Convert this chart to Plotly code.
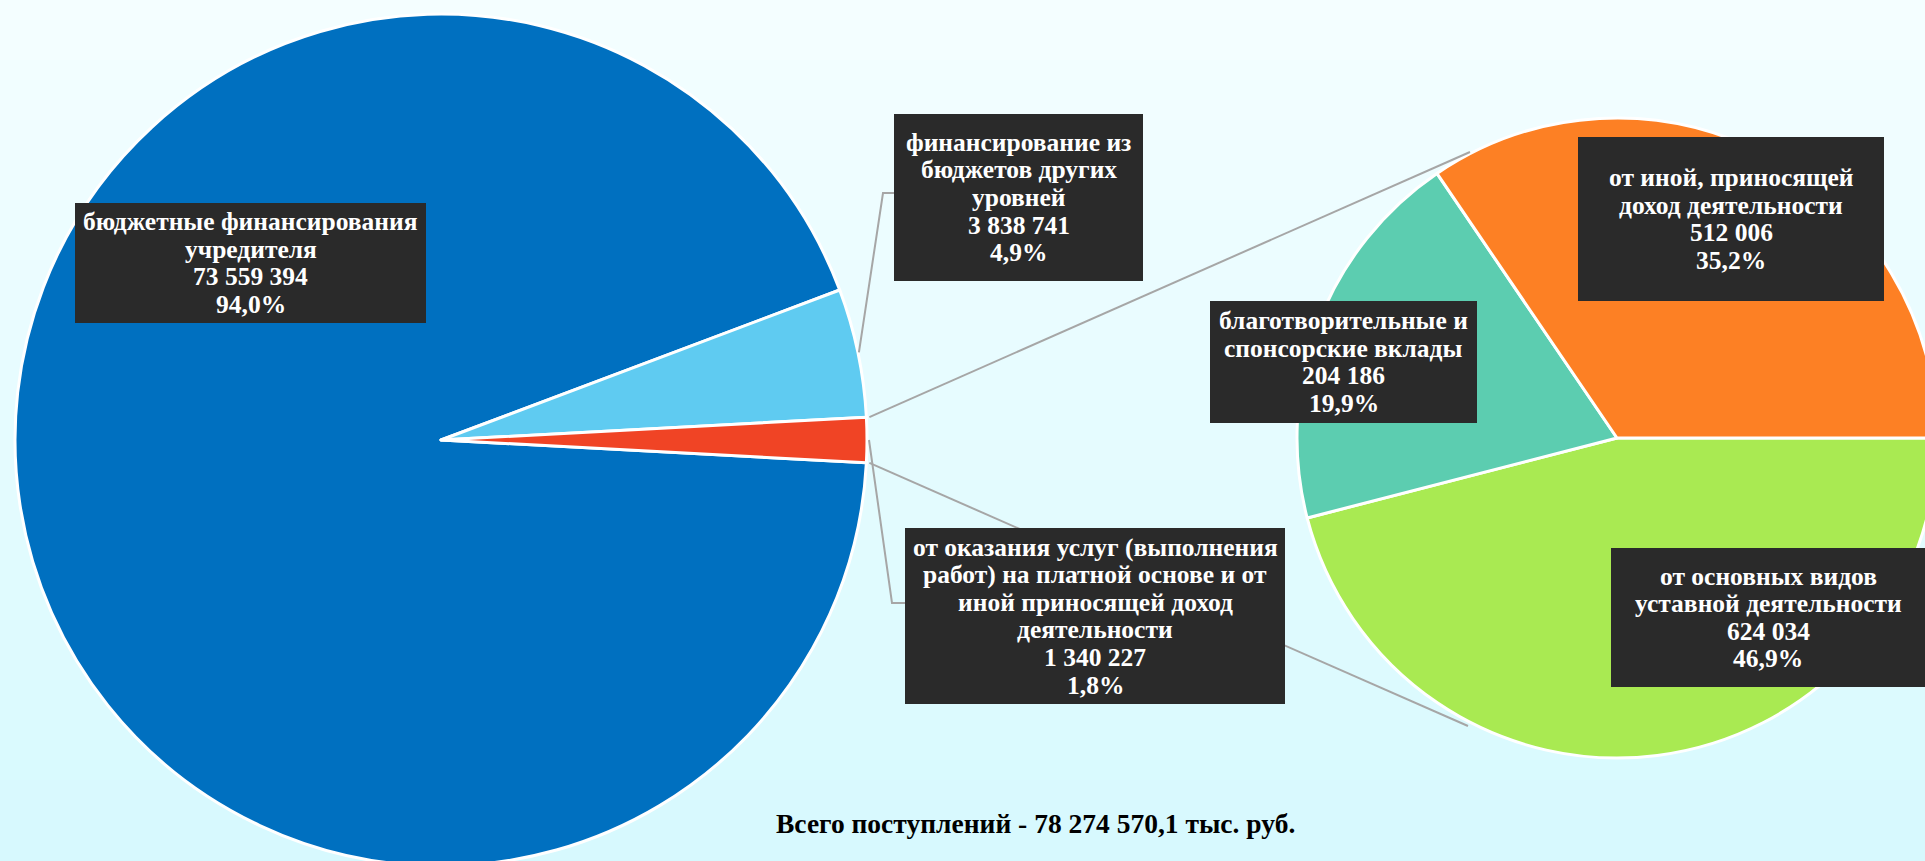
import math
import plotly.graph_objects as go

# ---------------- data ----------------
# main pie (drawn clockwise starting at the bottom edge of the red slice)
main_labels = [
    ["бюджетные финансирования", "учредителя"],
    ["финансирование из", "бюджетов других", "уровней"],
    ["от оказания услуг (выполнения", "работ) на платной основе и от", "иной приносящей доход", "деятельности"],
]
main_values = [73559394, 3838741, 1340227]
main_pcts = [94.0, 4.9, 1.8]

# secondary pie (break-down of the last main slice), drawn clockwise
sub_labels = [
    ["от основных видов", "уставной деятельности"],
    ["благотворительные и", "спонсорские вклады"],
    ["от иной, приносящей", "доход деятельности"],
]
sub_values = [624034, 204186, 512006]
sub_pcts = [46.9, 19.9, 35.2]

total_text = "Всего поступлений - 78 274 570,1 тыс. руб."

# ---------------- styles / layout ----------------
W, H = 1945, 880
main_colors = ["#0070C0", "#5FCBF1", "#F04425"]
sub_colors = ["#A9EA52", "#5CCDB0", "#FD8024"]
FONT = "Liberation Serif"
LINE_COLOR = "#A6A6A6"
BOX_COLOR = "#2A2A2A"
BOX_FONT = 25.5
SPACING = 27.6

def fx(x):
    return x / W

def fy(y):
    return 1 - y / H

# main pie geometry (pixels)
mcx, mcy, mr = 441, 440, 426
# secondary pie geometry
scx, scy, sr = 1617, 438, 320

tot = sum(main_values)
red_half = 180.0 * main_values[2] / tot           # half angle of red slice (deg)
main_rotation = 90 + red_half                       # start (clockwise from 12 o'clock)

fig = go.Figure()

fig.add_trace(go.Pie(
    values=main_values,
    sort=False,
    direction="clockwise",
    rotation=main_rotation,
    marker=dict(colors=main_colors, line=dict(color="white", width=3)),
    textinfo="none",
    hoverinfo="skip",
    showlegend=False,
    domain=dict(x=[fx(mcx - mr), fx(mcx + mr)], y=[fy(mcy + mr), fy(mcy - mr)]),
))

fig.add_trace(go.Pie(
    values=sub_pcts,
    sort=False,
    direction="clockwise",
    rotation=90,
    marker=dict(colors=sub_colors, line=dict(color="white", width=3)),
    textinfo="none",
    hoverinfo="skip",
    showlegend=False,
    domain=dict(x=[fx(scx - sr), fx(scx + sr)], y=[fy(scy + sr), fy(scy - sr)]),
))

shapes = []
# background gradient
top_c = (244, 254, 255)
bot_c = (214, 249, 254)
n = 44
for i in range(n):
    t = i / (n - 1)
    c = tuple(round(top_c[k] + (bot_c[k] - top_c[k]) * t) for k in range(3))
    y0 = i * H / n
    y1 = (i + 1) * H / n + 1
    shapes.append(dict(type="rect", xref="paper", yref="paper", layer="below",
                       x0=0, x1=1, y0=fy(y1), y1=fy(y0),
                       fillcolor="rgb(%d,%d,%d)" % c, line=dict(width=0)))

def pt(angle_deg, r):
    a = math.radians(angle_deg)
    return mcx + r * math.cos(a), mcy - r * math.sin(a)

def path(points):
    s = "M %f,%f" % (fx(points[0][0]), fy(points[0][1]))
    for p in points[1:]:
        s += " L %f,%f" % (fx(p[0]), fy(p[1]))
    return s

lb_mid = red_half + 180.0 * main_values[1] / tot
# leader for light-blue slice
p0 = pt(lb_mid, mr + 1)
shapes.append(dict(type="path", xref="paper", yref="paper", layer="above",
                   path=path([p0, (883, 193), (894, 193)]),
                   line=dict(color=LINE_COLOR, width=2)))
# leader for red slice
p0 = pt(0, mr + 2)
shapes.append(dict(type="path", xref="paper", yref="paper", layer="above",
                   path=path([p0, (892, 603), (905, 603)]),
                   line=dict(color=LINE_COLOR, width=2)))
# pie-of-pie connectors
pa = pt(red_half, mr + 3)
pb = pt(-red_half, mr + 3)
shapes.append(dict(type="path", xref="paper", yref="paper", layer="above",
                   path=path([pa, (1470, 152)]), line=dict(color=LINE_COLOR, width=2)))
shapes.append(dict(type="path", xref="paper", yref="paper", layer="above",
                   path=path([pb, (1468, 726)]), line=dict(color=LINE_COLOR, width=2)))

annotations = []

def fmt_val(v):
    return f"{v:,}".replace(",", " ")

def fmt_pct(p):
    return f"{p:.1f}%".replace(".", ",")

def add_box(box, lines, cx=None):
    x0, y0, x1, y1 = box
    shapes.append(dict(type="rect", xref="paper", yref="paper", layer="above",
                       x0=fx(x0), x1=fx(x1), y0=fy(y1), y1=fy(y0),
                       fillcolor=BOX_COLOR, line=dict(width=0)))
    if cx is None:
        cx = (x0 + x1) / 2
    cy = (y0 + y1) / 2
    nl = len(lines)
    for i, ln in enumerate(lines):
        y = cy + (i - (nl - 1) / 2) * SPACING
        annotations.append(dict(xref="paper", yref="paper", x=fx(cx), y=fy(y),
                                xanchor="center", yanchor="middle", showarrow=False,
                                text="<b>%s</b>" % ln,
                                font=dict(family=FONT, size=BOX_FONT, color="white")))

main_boxes = [(75, 203, 426, 323), (894, 114, 1143, 281), (905, 528, 1285, 704)]
sub_boxes = [(1611, 548, 1945, 687), (1210, 301, 1477, 423), (1578, 137, 1884, 301)]
sub_box_centers = [1768, None, None]

for i in range(3):
    add_box(main_boxes[i], main_labels[i] + [fmt_val(main_values[i]), fmt_pct(main_pcts[i])])
for i in range(3):
    add_box(sub_boxes[i], sub_labels[i] + [fmt_val(sub_values[i]), fmt_pct(sub_pcts[i])],
            cx=sub_box_centers[i])

annotations.append(dict(xref="paper", yref="paper", x=fx(1035), y=fy(823),
                        xanchor="center", yanchor="middle", showarrow=False,
                        text="<b>%s</b>" % total_text,
                        font=dict(family=FONT, size=27.5, color="black")))

fig.update_layout(
    width=W, height=H,
    margin=dict(l=0, r=0, t=0, b=0),
    paper_bgcolor="#EAFDFF",
    plot_bgcolor="rgba(0,0,0,0)",
    shapes=shapes,
    annotations=annotations,
)

fig.write_html(
    "out.html",
    config={"displayModeBar": False},
    post_script="document.body.style.margin='0';document.body.style.overflow='hidden';"
                "document.documentElement.style.overflow='hidden';",
)
